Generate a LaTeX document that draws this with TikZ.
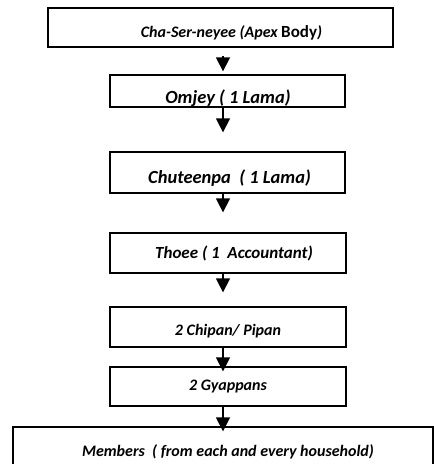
\documentclass[tikz,border=0pt]{standalone}
\usepackage{fontspec}
\setmainfont{Carlito}
\usetikzlibrary{arrows.meta}
\begin{document}
\begin{tikzpicture}[x=1pt,y=-1pt,
  box/.style={draw,line width=1.3pt,inner sep=0pt},
  lbl/.style={anchor=base,inner sep=0pt,font=\bfseries\itshape\fontsize{16}{19}\selectfont},
  lblbig/.style={lbl,font=\bfseries\itshape\fontsize{18.5}{22}\selectfont},
  lblmid/.style={lbl,font=\bfseries\itshape\fontsize{17}{20}\selectfont},
  flow/.style={line width=1.3pt,-{Triangle[width=14pt,length=14pt]}}]
\clip (0,0) rectangle (434,464);
\useasboundingbox (0,0) rectangle (434,464);
\coordinate (ax) at (223,0);
\node[box,minimum width=345pt,minimum height=39pt] (b1) at (220.5,27.5) {};
\node[box,minimum width=235pt,minimum height=32pt] (b2) at (227.5,91) {};
\node[box,minimum width=235pt,minimum height=41pt] (b3) at (227.5,172.5) {};
\node[box,minimum width=236pt,minimum height=40pt] (b4) at (228,253) {};
\node[box,minimum width=236pt,minimum height=40pt] (b5) at (228,327) {};
\node[box,minimum width=236pt,minimum height=39pt] (b6) at (228,386.5) {};
\node[box,minimum width=420pt,minimum height=42pt] (b7) at (223,448) {};
\node[lbl] (t1) at (231.5,37.5) {Cha-Ser-neyee (Apex {\upshape\fontsize{17}{20}\selectfont Body})};
\node[lblbig] (t2) at (228,103) {Omjey ( 1 Lama)};
\node[lblbig] (t3) at (229.5,183) {Chuteenpa\ \ ( 1 Lama)};
\node[lblmid] (t4) at (234,258.5) {Thoee ( 1\ \ Accountant)};
\node[lbl] (t5) at (228,335) {2 Chipan/ Pipan};
\node[lbl] (t6) at (228,390.5) {2 Gyappans};
\node[lbl] (t7) at (228,456.5) {Members\ \ ( from each and every household)};
\draw[flow,shorten <=8pt,shorten >=3pt] (b1.south -| ax) -- (b2.north -| ax);
\draw[flow,shorten >=19pt] (b2.south -| ax) -- (b3.north -| ax);
\draw[flow,shorten >=20pt] (b3.south -| ax) -- (b4.north -| ax);
\draw[flow,shorten >=14pt] (b4.south -| ax) -- (b5.north -| ax);
\draw[flow,shorten >=-5pt] (b5.south -| ax) -- (b6.north -| ax);
\draw[flow,shorten >=-5pt] (b6.south -| ax) -- (b7.north -| ax);
\end{tikzpicture}
\end{document}
